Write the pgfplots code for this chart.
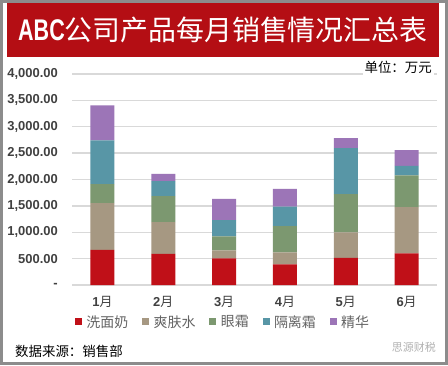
\documentclass[border=0pt]{standalone}
\usepackage{fontspec}
\setmainfont{Liberation Sans}
\newfontfamily\cjk{Noto Sans CJK SC}
\usepackage{graphicx}
\usepackage{pgfplots}
\pgfplotsset{compat=1.18}
\definecolor{c1}{RGB}{192,16,24}
\definecolor{c2}{RGB}{166,152,130}
\definecolor{c3}{RGB}{124,152,112}
\definecolor{c4}{RGB}{88,150,166}
\definecolor{c5}{RGB}{156,117,183}
\definecolor{banner}{RGB}{180,14,20}
\definecolor{frame}{RGB}{140,140,140}
\definecolor{ticktext}{RGB}{64,64,64}
\definecolor{legtext}{RGB}{100,100,100}
\definecolor{gridc}{RGB}{217,217,217}
\begin{document}
\begin{tikzpicture}[x=1bp,y=1bp]
\fill[white] (0,0) rectangle (448,365);
\draw[frame, line width=3bp] (1.5,1.5) rectangle (446.5,363.5);
\fill[banner] (7,308) rectangle (439,362);
\node[anchor=west, inner sep=0pt, text=white] at (18,335)
  {\scalebox{0.72}[1]{\fontsize{30}{30}\selectfont\bfseries ABC}{\fontsize{28}{28}\selectfont\cjk 公司产品每月销售情况汇总表}};
\begin{axis}[
  at={(72bp,80bp)}, anchor=south west,
  scale only axis, width=365bp, height=211bp,
  xmin=0.5, xmax=6.5, ymin=0, ymax=4000,
  ybar stacked, bar width=24bp,
  axis line style={draw=none},
  major tick length=0pt,
  ymajorgrids, grid style={gridc, line width=1.3bp},
  ytick={0,500,1000,1500,2000,2500,3000,3500,4000},
  yticklabels={-,500.00,{1,000.00},{1,500.00},{2,000.00},{2,500.00},{3,000.00},{3,500.00},{4,000.00}},
  yticklabel style={font=\fontsize{13}{13}\selectfont\bfseries, text=ticktext, anchor=east, inner sep=0pt, xshift=-14bp},
  xtick={1,2,3,4,5,6},
  xticklabels={{\bfseries 1}{\cjk 月},{\bfseries 2}{\cjk 月},{\bfseries 3}{\cjk 月},{\bfseries 4}{\cjk 月},{\bfseries 5}{\cjk 月},{\bfseries 6}{\cjk 月}},
  xticklabel style={font=\fontsize{13}{13}\selectfont, text=ticktext, anchor=north, inner sep=0pt, yshift=-11bp},
  legend columns=5,
  legend style={at={(0.414,-0.175)}, anchor=center, draw=none, fill=none,
    font=\fontsize{14}{14}\selectfont\cjk, text=legtext,
    /tikz/every even column/.append style={column sep=12bp}},
  legend image code/.code={\fill[#1,draw=none] (0bp,-3.5bp) rectangle (7bp,3.5bp);},
]
\addplot[fill=c1, draw=none] coordinates {(1,665) (2,589) (3,506) (4,392) (5,513) (6,601)};
\addplot[fill=c2, draw=none] coordinates {(1,886) (2,601) (3,152) (4,228) (5,487) (6,874)};
\addplot[fill=c3, draw=none] coordinates {(1,360) (2,494) (3,266) (4,494) (5,722) (6,601)};
\addplot[fill=c4, draw=none] coordinates {(1,830) (2,284) (3,304) (4,373) (5,873) (6,183)};
\addplot[fill=c5, draw=none] coordinates {(1,664) (2,140) (3,405) (4,336) (5,190) (6,298)};
\legend{\,洗面奶,\,爽肤水,\,眼霜,\,隔离霜,\,精华}
\end{axis}
\node[fill=white, inner sep=2pt, anchor=east] at (434,298) {\fontsize{13.5}{13.5}\selectfont\cjk 单位：万元};
\node[anchor=west, inner sep=0pt] at (15,14) {\fontsize{13.5}{13.5}\selectfont\cjk 数据来源：销售部};
\node[anchor=east, inner sep=0pt, text=gray!60] at (436,18) {\fontsize{11}{11}\selectfont\cjk 思源财税};
\end{tikzpicture}
\end{document}
